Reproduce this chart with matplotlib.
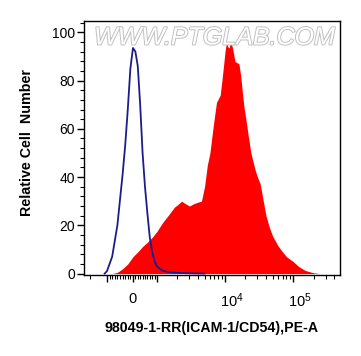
import numpy as np
import matplotlib
matplotlib.use('Agg')
import matplotlib.pyplot as plt
import matplotlib.patheffects as pe
import matplotlib.transforms as mtransforms
from matplotlib.ticker import FixedLocator, FixedFormatter, MultipleLocator

plt.rcParams['font.family'] = ['Liberation Sans', 'DejaVu Sans']
plt.rcParams['mathtext.fontset'] = 'custom'
plt.rcParams['mathtext.rm'] = 'Liberation Sans'

# control (blue line) histogram, PE-A intensity vs relative count
blue_x = [-1100, -1000, -800, -600, -400, -300, -200, -100, 0, 100, 200, 300,
          400, 500, 600, 700, 800, 900, 1000, 1200, 1500, 2000, 3000, 5000]
blue_y = [0, 1, 7, 20, 41, 53, 68, 85, 93.5, 92, 86, 70,
          50, 36, 25, 15, 9, 5, 3, 1.2, 0.6, 0.3, 0.1, 0]

# stained sample (red filled) histogram
red_x = [-800, -600, -400, -200, 0, 200, 400, 600, 800, 1000, 1200, 1500, 1800,
         2000, 2300, 2600, 3000, 3500, 4000, 4500, 5000, 5500, 6000, 6500, 7000,
         7500, 8000, 8500, 9000, 9500, 10000, 10500, 11000, 11500, 12000, 12500,
         13000, 14000, 15000, 16000, 17000, 18000, 19000, 20000, 22000, 24000,
         26000, 28000, 30000, 33000, 36000, 40000, 45000, 50000, 60000, 70000,
         80000, 100000, 120000, 150000, 200000, 250000]
red_y = [0, 0.5, 2, 4, 7, 9, 11.2, 13, 15, 17.5, 21, 24.5, 27.5,
         28.5, 30, 29, 28, 29, 29.6, 30, 36, 45, 50, 58, 65,
         71, 72.5, 74, 80, 86, 92, 96, 94, 93.5, 96, 95,
         93, 88, 87.4, 87, 82, 75, 69, 65, 57, 50,
         46, 42.5, 40, 37, 31, 24, 19, 15.6, 11.5, 9,
         7, 5, 3, 1.3, 0.3, 0]

major_ticks = [-1000, 0, 1000, 10000, 100000]
major_labels = ['', '0', '', r'$\mathregular{10^4}$', r'$\mathregular{10^5}$']
minor_ticks = ([-2000] + list(range(-900, 0, 100)) + list(range(100, 1000, 100))
               + list(range(2000, 10000, 1000)) + list(range(20000, 100000, 10000))
               + [200000, 300000, 400000])


# biexponential-like display scale (linear around zero, log above 10^3)
def forward(v):
    v = np.asarray(v, dtype=float)
    with np.errstate(divide='ignore', invalid='ignore', over='ignore'):
        hi = 157 + 68 * np.log10(np.maximum(v, 1000) / 1000)
        lo = 107 - 56 * np.log10(np.maximum(-v, 1000) / 1000)
    return np.where(v >= 1000, hi,
                    np.where(v >= 0, 133 + 0.024 * v,
                             np.where(v >= -1000, 133 + 0.026 * v, lo)))


def inverse(p):
    p = np.asarray(p, dtype=float)
    with np.errstate(over='ignore', invalid='ignore'):
        hi = 1000 * 10 ** ((p - 157) / 68)
        lo = -1000 * 10 ** ((107 - p) / 56)
    return np.where(p >= 157, hi,
                    np.where(p >= 133, (p - 133) / 0.024,
                             np.where(p >= 107, (p - 133) / 0.026, lo)))


fig = plt.figure(figsize=(3.61, 3.56), dpi=100)
ax = fig.add_axes([84 / 361, (356 - 275) / 356, 256 / 361, 254 / 356])
ax.set_xscale('function', functions=(forward, inverse))

ax.fill_between(red_x, red_y, color='#ff0000', lw=0, zorder=2)
ax.plot(blue_x, blue_y, color='#1c1c8a', lw=1.3, zorder=3)

ax.set_xlim(-2570, 4.9e5)
ax.set_ylim(-0.6, 104.7)

ax.xaxis.set_major_locator(FixedLocator(major_ticks))
ax.xaxis.set_major_formatter(FixedFormatter(major_labels))
ax.xaxis.set_minor_locator(FixedLocator(minor_ticks))
ax.yaxis.set_major_locator(MultipleLocator(20))
ax.yaxis.set_minor_locator(MultipleLocator(4))

ax.tick_params(axis='both', which='major', length=5, width=1, labelsize=10, color='black')
ax.tick_params(axis='both', which='minor', length=3, width=0.8)
ax.tick_params(axis='x', which='major', pad=7, labelsize=10.5)
ax.tick_params(axis='y', which='major', pad=1.5)
for s in ax.spines.values():
    s.set_linewidth(1)

# power-of-ten labels sit a little right of their ticks
shift = mtransforms.ScaledTranslation(7 / 100, 0, fig.dpi_scale_trans)
for lab in ax.get_xticklabels()[3:]:
    lab.set_transform(lab.get_transform() + shift)

ax.text(0.51, 0.935, 'WWW.PTGLAB.COM', transform=ax.transAxes, ha='center', va='center',
        fontsize=18, style='italic', color='white', zorder=5,
        path_effects=[pe.withStroke(linewidth=1.4, foreground='#c0c0c0')])

fig.text(27 / 361, 1 - 142 / 356, 'Relative Cell  Number', rotation=90, ha='center',
         va='center', fontsize=10.3, fontweight='bold')
fig.text(212 / 361, 1 - 328 / 356, '98049-1-RR(ICAM-1/CD54),PE-A', ha='center',
         va='center', fontsize=10.2, fontweight='bold')

fig.savefig('out.png', dpi=100, facecolor='white')
